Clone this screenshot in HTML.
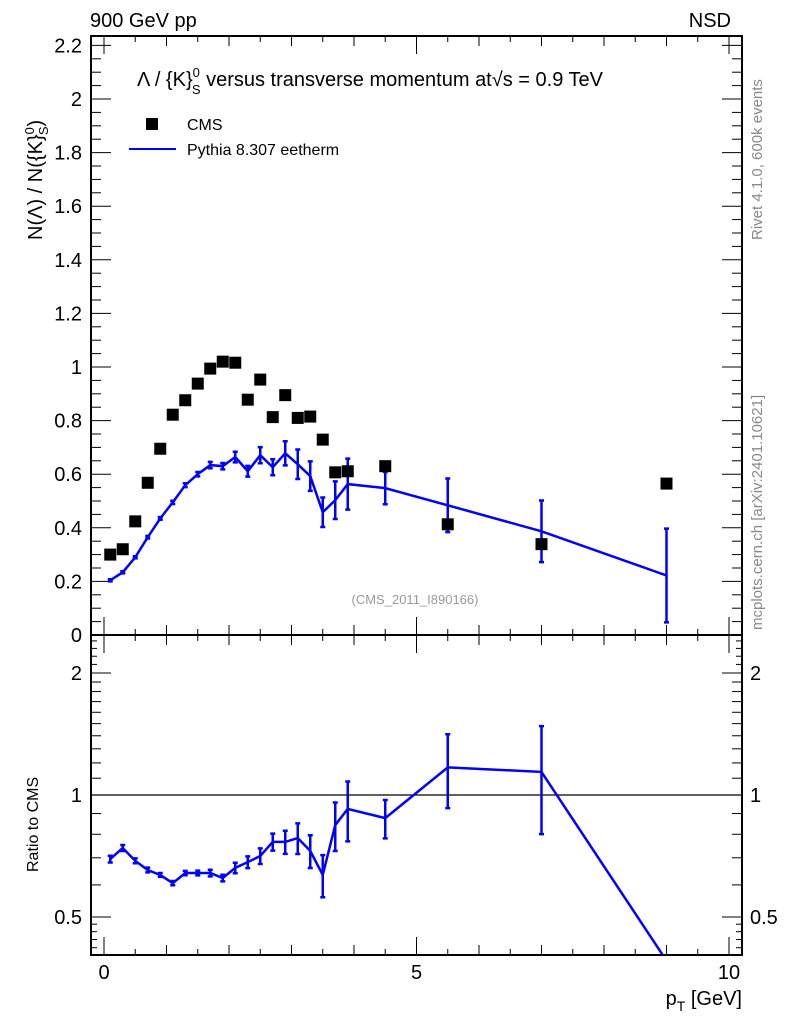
<!DOCTYPE html>
<html><head><meta charset="utf-8"><style>
html,body{margin:0;padding:0;background:#fff;overflow:hidden;width:786px;height:1024px}
svg{display:block}
svg text{font-family:"Liberation Sans",sans-serif}
</style></head><body>
<svg id="chart" width="786" height="1024" xmlns="http://www.w3.org/2000/svg">
<g id="g"></g>
<text x="90" y="27" font-size="20">900 GeV pp</text>
<text x="731" y="27" font-size="20" text-anchor="end">NSD</text>
<text x="137" y="86" font-size="20">Λ / {K}<tspan dy="-9" font-size="13">0</tspan><tspan dx="-8" dy="17" font-size="13">S</tspan><tspan dy="-8"> versus transverse momentum at</tspan><tspan font-size="20">√s = 0.9 TeV</tspan></text>
<rect x="146" y="118" width="12" height="12" fill="#000"/>
<text x="187" y="130" font-size="16">CMS</text>
<line x1="129" y1="149" x2="176" y2="149" stroke="#0000ff" stroke-width="2"/>
<text x="187" y="155" font-size="16">Pythia 8.307 eetherm</text>
<text transform="translate(42,240) rotate(-90)" font-size="20">N(Λ)  /  N({K}<tspan dy="-8" font-size="13">0</tspan><tspan dx="-8" dy="14" font-size="13">S</tspan><tspan dy="-6">)</tspan></text>
<text transform="translate(38,872) rotate(-90)" font-size="16" text-anchor="start">Ratio to CMS</text>
<text x="742" y="1005" font-size="20" text-anchor="end">p<tspan dy="6" font-size="14">T</tspan><tspan dy="-6"> [GeV]</tspan></text>
<text transform="translate(762,240) rotate(-90)" font-size="15" fill="#888">Rivet 4.1.0,  600k events</text>
<text transform="translate(762,630) rotate(-90)" font-size="15" fill="#888">mcplots.cern.ch [arXiv:2401.10621]</text>
<text x="415" y="604" font-size="13" fill="#999" text-anchor="middle">(CMS_2011_I890166)</text>
</svg>
<script>
const pt = [0.1,0.3,0.5,0.7,0.9,1.1,1.3,1.5,1.7,1.9,2.1,2.3,2.5,2.7,2.9,3.1,3.3,3.5,3.7,3.9,4.5,5.5,7.0,9.0];
const cmsVals = [0.30,0.32,0.424,0.568,0.695,0.822,0.876,0.938,0.994,1.02,1.016,0.878,0.953,0.813,0.895,0.81,0.815,0.729,0.607,0.611,0.63,0.413,0.339,0.565];
const pythiaVals = [0.204,0.234,0.29,0.365,0.435,0.495,0.559,0.60,0.634,0.63,0.664,0.611,0.671,0.626,0.678,0.637,0.593,0.458,0.503,0.563,0.548,0.484,0.387,0.222];
const pythiaErr = [0.004,0.004,0.004,0.005,0.005,0.006,0.007,0.008,0.012,0.012,0.02,0.02,0.03,0.03,0.045,0.055,0.055,0.055,0.07,0.095,0.06,0.10,0.115,0.175];
const ratioVals = [0.695,0.74,0.688,0.653,0.635,0.606,0.642,0.642,0.642,0.624,0.661,0.683,0.707,0.766,0.766,0.783,0.728,0.635,0.843,0.924,0.877,1.17,1.14,0.39];
const mainTicks = [0,0.2,0.4,0.6,0.8,1,1.2,1.4,1.6,1.8,2,2.2];
const mainTickLabels = ["0","0.2","0.4","0.6","0.8","1","1.2","1.4","1.6","1.8","2","2.2"];
const ratioTicks = [0.5,1,2];
const ratioTickLabels = ["0.5","1","2"];
const xTicks = [0,5,10];
const xTickLabels = ["0","5","10"];

const NS="http://www.w3.org/2000/svg";
const g=document.getElementById('g');
const L=91,R=742,T=36,M=635,B=955;
const X=v=>104+62.5*v;
const Y=v=>635-268*v;
const YR=v=>795-122*Math.log2(v);
const RMIN=0.403;
function mk(tag,attrs,parent){const e=document.createElementNS(NS,tag);for(const k in attrs)e.setAttribute(k,attrs[k]);(parent||g).appendChild(e);return e;}
function ln(x1,y1,x2,y2,c,w){return mk('line',{x1,y1,x2,y2,stroke:c||'#000','stroke-width':w||1});}

const clipMain=mk('clipPath',{id:'cm'});mk('rect',{x:L,y:T,width:R-L,height:M-T},clipMain);
const clipRat=mk('clipPath',{id:'cr'});mk('rect',{x:L,y:M,width:R-L,height:B-M},clipRat);

const f1=mk('rect',{x:L,y:T,width:R-L,height:M-T,fill:'none',stroke:'#000','stroke-width':2});


const f2=mk('rect',{x:L,y:M,width:R-L,height:B-M,fill:'none',stroke:'#000','stroke-width':2});



for(let v=0;v<=10.01;v+=0.5){
  const major=Math.abs(v-Math.round(v/5)*5)<1e-6;
  const len=major?18:(Math.abs(v-Math.round(v))<1e-6?10:6);
  const x=X(v);
  ln(x,T,x,T+len);ln(x,M,x,M-len);ln(x,M,x,M+len);ln(x,B,x,B-len);
}
xTicks.forEach((v,i)=>{
  const t=mk('text',{x:X(v),y:979,'font-size':20,'text-anchor':'middle'});t.textContent=xTickLabels[i];
  
  
});
for(let v=0;v<=2.26;v+=0.05){
  const major=Math.abs(v/0.2-Math.round(v/0.2))<1e-6;
  const len=major?20:10;const y=Y(v);
  if(y<T)continue;
  ln(L,y,L+len,y);ln(R,y,R-len,y);
}
mainTicks.forEach((v,i)=>{
  const t=mk('text',{x:82,y:Y(v)+7,'font-size':20,'text-anchor':'end'});t.textContent=mainTickLabels[i];
  
  
});
[0.5,0.6,0.7,0.8,0.9,1,1.1,1.2,1.3,1.4,1.5,1.6,1.7,1.8,1.9,2].forEach(v=>{
  const major=ratioTicks.includes(v);const len=major?20:10;const y=YR(v);
  ln(L,y,L+len,y);ln(R,y,R-len,y);
});
for(let v=0.42;v<0.5;v+=0.02){const y=YR(v);ln(L,y,L+6,y);ln(R,y,R-6,y);}
for(let v=2.1;v<2.5;v+=0.1){const y=YR(v);ln(L,y,L+6,y);ln(R,y,R-6,y);}
ratioTicks.forEach((v,i)=>{
  const t=mk('text',{x:82,y:YR(v)+7,'font-size':20,'text-anchor':'end'});t.textContent=ratioTickLabels[i];
  
  
  const t2=mk('text',{x:750,y:YR(v)+7,'font-size':20});t2.textContent=ratioTickLabels[i];
  
  
});
const one=ln(L,YR(1),R,YR(1),'#000',1.2);



const gm=mk('g',{'clip-path':'url(#cm)'});
pt.forEach((x,i)=>{
  const px=X(x),y1=Y(pythiaVals[i]-pythiaErr[i]),y2=Y(pythiaVals[i]+pythiaErr[i]);
  const e=mk('path',{d:`M${px},${y1}V${y2}M${px-2.5},${y1}h5M${px-2.5},${y2}h5`,stroke:'#0000ff','stroke-width':2.5,fill:'none'},gm);
  
  
});
const pl=mk('polyline',{points:pt.map((x,i)=>X(x)+','+Y(pythiaVals[i])).join(' '),fill:'none',stroke:'#0000ff','stroke-width':2.5},gm);


pt.forEach((x,i)=>{
  const r=mk('rect',{x:X(x)-6,y:Y(cmsVals[i])-6,width:12,height:12,fill:'#000'},gm);
  
  
});

const gr=mk('g',{'clip-path':'url(#cr)'});
pt.forEach((x,i)=>{
  if(ratioVals[i]<RMIN)return;
  const e=pythiaErr[i]/cmsVals[i];
  const px=X(x),y1=YR(Math.max(ratioVals[i]-e,0.05)),y2=YR(ratioVals[i]+e);
  const p=mk('path',{d:`M${px},${y1}V${y2}M${px-2.5},${y1}h5M${px-2.5},${y2}h5`,stroke:'#0000ff','stroke-width':2.5,fill:'none'},gr);
  
  
});
const rl=mk('polyline',{points:pt.map((x,i)=>X(x)+','+YR(ratioVals[i])).join(' '),fill:'none',stroke:'#0000ff','stroke-width':2.5},gr);


</script>
</body></html>
